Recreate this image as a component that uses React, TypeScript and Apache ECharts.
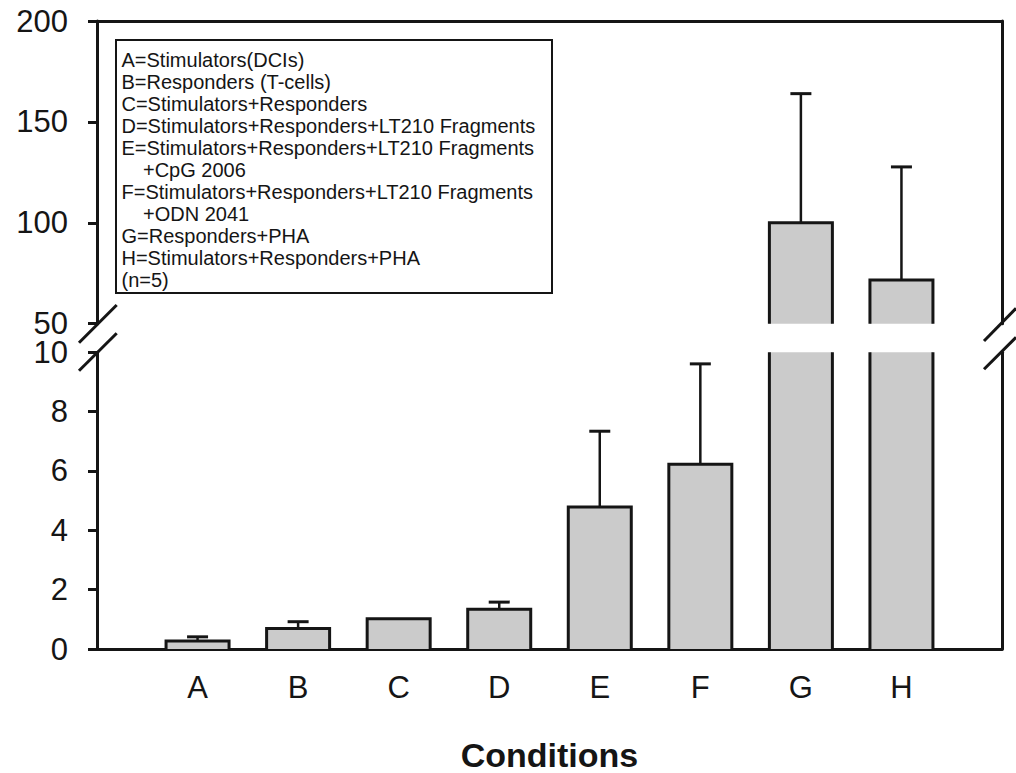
import React, { useEffect, useRef } from "react";
import * as echarts from "echarts";

const categories = ["", "A", "B", "C", "D", "E", "F", "G", "H", ""];
const barLabels = ["A", "B", "C", "D", "E", "F", "G", "H"];
const means = [0.27, 0.69, 1.02, 1.34, 4.79, 6.23, 100, 71.7];
const sems = [0.14, 0.23, 0, 0.24, 2.55, 3.38, 64, 56];
const upperTicks = { min: 50, max: 200, interval: 50 };
const lowerTicks = { min: 0, max: 10, interval: 2 };
const legendLines = [
  { text: "A=Stimulators(DCIs)", indent: false },
  { text: "B=Responders (T-cells)", indent: false },
  { text: "C=Stimulators+Responders", indent: false },
  { text: "D=Stimulators+Responders+LT210 Fragments", indent: false },
  { text: "E=Stimulators+Responders+LT210 Fragments", indent: false },
  { text: "+CpG 2006", indent: true },
  { text: "F=Stimulators+Responders+LT210 Fragments", indent: false },
  { text: "+ODN 2041", indent: true },
  { text: "G=Responders+PHA", indent: false },
  { text: "H=Stimulators+Responders+PHA", indent: false },
  { text: "(n=5)", indent: false },
];
const xTitle = "Conditions";

const FONT = "'Liberation Sans', Arial, sans-serif";
const INK = "#151515";
const BAR_FILL = "#cbcbcb";
const BAR_W = 63;
const CAP_W = 21;

function renderBar(params: any, api: any) {
  const x = api.value(0);
  const v = api.value(1);
  const cs = params.coordSys;
  const top = api.coord([x, v]);
  const base = api.coord([x, 0]);
  const gridTop = cs.y;
  const gridBottom = cs.y + cs.height;
  const clippedTop = top[1] < gridTop;
  const yTop = Math.max(top[1], gridTop);
  const yBase = Math.min(base[1], gridBottom);
  const l = top[0] - BAR_W / 2;
  const r = top[0] + BAR_W / 2;
  const stroke = { stroke: INK, lineWidth: 3, fill: null };
  const children: any[] = [
    {
      type: "rect",
      shape: { x: l, y: yTop, width: BAR_W, height: yBase - yTop },
      style: { fill: BAR_FILL },
    },
  ];
  if (clippedTop) {
    children.push({ type: "line", shape: { x1: l, y1: yTop, x2: l, y2: yBase }, style: stroke });
    children.push({ type: "line", shape: { x1: r, y1: yTop, x2: r, y2: yBase }, style: stroke });
  } else {
    children.push({
      type: "polyline",
      shape: { points: [[l, yBase], [l, yTop], [r, yTop], [r, yBase]] },
      style: stroke,
    });
  }
  return { type: "group", children };
}

function renderErr(params: any, api: any) {
  const x = api.value(0);
  const v = api.value(1);
  const e = api.value(2);
  if (!(e > 0)) return null;
  const p0 = api.coord([x, v]);
  const p1 = api.coord([x, v + e]);
  const style = { stroke: INK, lineWidth: 2.5, fill: null };
  return {
    type: "group",
    children: [
      { type: "line", shape: { x1: p0[0], y1: p0[1], x2: p1[0], y2: p1[1] }, style },
      {
        type: "line",
        shape: { x1: p1[0] - CAP_W / 2, y1: p1[1], x2: p1[0] + CAP_W / 2, y2: p1[1] },
        style: { ...style, lineWidth: 3 },
      },
    ],
  };
}

export default function App() {
  const ref = useRef<HTMLDivElement>(null);
  useEffect(() => {
    document.body.style.margin = "0";
    const chart = echarts.init(ref.current!, null, { renderer: "svg" });

    const rows = barLabels.map((c, i) => [i + 1, means[i], sems[i]]);
    const upperRows = rows.filter((r) => r[1] > upperTicks.min);
    const lowerErrRows = rows.filter((r) => r[1] + r[2] < lowerTicks.max);

    const gridLeft = 97;
    const gridRight = 14;
    const upperTop = 21;
    const upperH = 302.7;
    const lowerTop = 352.3;
    const lowerH = 302.2;

    const axisLine = { show: true, lineStyle: { color: INK, width: 3 } };
    const yLabel = { fontSize: 31, lineHeight: 24, color: INK, fontFamily: FONT, margin: 29 };
    const yTick = { show: true, inside: false, length: 9, lineStyle: { color: INK, width: 3 } };

    const legendGraphics: any[] = [
      {
        type: "rect",
        shape: { x: 116, y: 40, width: 436, height: 253 },
        style: { fill: "#ffffff", stroke: INK, lineWidth: 2 },
        z: 10,
      },
      ...legendLines.map((ln, i) => ({
        type: "text",
        x: ln.indent ? 143 : 121.5,
        y: 59.5 + i * 22.05,
        style: {
          text: ln.text,
          fontSize: 20,
          fontFamily: FONT,
          fill: INK,
          verticalAlign: "middle",
          align: "left",
        },
        z: 11,
      })),
    ];

    const slash = (x1: number, y1: number, x2: number, y2: number) => ({
      type: "line",
      shape: { x1, y1, x2, y2 },
      style: { stroke: INK, lineWidth: 3 },
      z: 12,
    });

    chart.setOption({
      animation: false,
      backgroundColor: "#ffffff",
      textStyle: { fontFamily: FONT },
      grid: [
        { left: gridLeft, right: gridRight, top: upperTop, height: upperH },
        { left: gridLeft, right: gridRight, top: lowerTop, height: lowerH },
      ],
      xAxis: [
        {
          type: "category",
          gridIndex: 0,
          position: "top",
          data: categories,
          boundaryGap: false,
          axisLine,
          axisTick: { show: false },
          axisLabel: { show: false },
          splitLine: { show: false },
        },
        {
          type: "category",
          gridIndex: 1,
          position: "bottom",
          data: categories,
          boundaryGap: false,
          axisLine,
          axisTick: { show: false },
          axisLabel: { fontSize: 31, color: INK, fontFamily: FONT, margin: 23, interval: 0 },
          splitLine: { show: false },
          name: xTitle,
          nameLocation: "middle",
          nameGap: 89,
          nameTextStyle: { fontSize: 34, fontWeight: "bold", color: INK, fontFamily: FONT },
        },
      ],
      yAxis: [
        {
          type: "value",
          gridIndex: 0,
          position: "left",
          ...upperTicks,
          axisLine,
          axisTick: yTick,
          axisLabel: yLabel,
          splitLine: { show: false },
        },
        {
          type: "value",
          gridIndex: 0,
          position: "right",
          ...upperTicks,
          axisLine,
          axisTick: { show: false },
          axisLabel: { show: false },
          splitLine: { show: false },
        },
        {
          type: "value",
          gridIndex: 1,
          position: "left",
          ...lowerTicks,
          axisLine,
          axisTick: yTick,
          axisLabel: yLabel,
          splitLine: { show: false },
        },
        {
          type: "value",
          gridIndex: 1,
          position: "right",
          ...lowerTicks,
          axisLine,
          axisTick: { show: false },
          axisLabel: { show: false },
          splitLine: { show: false },
        },
      ],
      series: [
        {
          type: "custom",
          xAxisIndex: 0,
          yAxisIndex: 0,
          renderItem: renderErr,
          data: upperRows,
          z: 3,
        },
        {
          type: "custom",
          xAxisIndex: 0,
          yAxisIndex: 0,
          renderItem: renderBar,
          data: upperRows,
          z: 4,
        },
        {
          type: "custom",
          xAxisIndex: 1,
          yAxisIndex: 2,
          renderItem: renderErr,
          data: lowerErrRows,
          z: 3,
        },
        {
          type: "custom",
          xAxisIndex: 1,
          yAxisIndex: 2,
          renderItem: renderBar,
          data: rows,
          z: 4,
        },
      ],
      graphic: [
        ...legendGraphics,
        slash(79, 342.7, 116.7, 305),
        slash(79, 370.7, 116.7, 333.3),
        slash(984, 341, 1016, 308.3),
        slash(984, 369.3, 1016, 337.3),
      ],
    });
    return () => chart.dispose();
  }, []);
  return <div ref={ref} style={{ width: 1016, height: 773 }} />;
}
